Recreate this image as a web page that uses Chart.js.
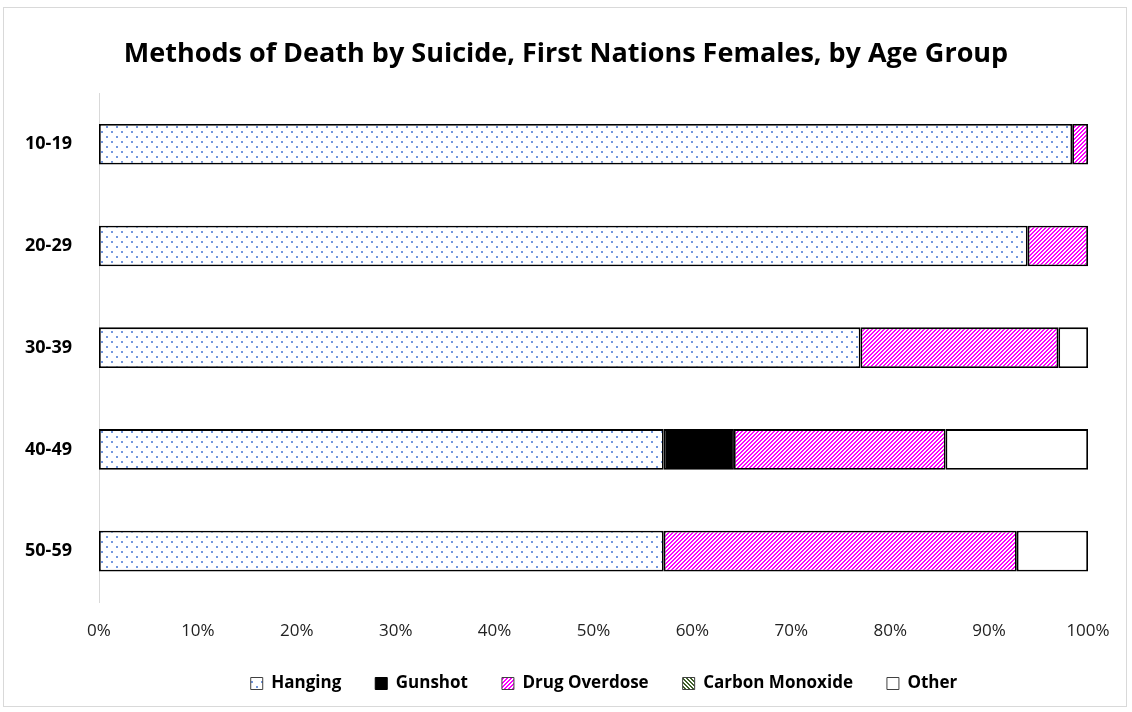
<!DOCTYPE html>
<html>
<head>
<meta charset="utf-8">
<script src="https://cdn.jsdelivr.net/npm/chart.js@4/dist/chart.umd.min.js"></script>
<style>
  html, body { margin: 0; padding: 0; background: #fff; }
  #wrap { position: absolute; left: 3px; top: 7px; width: 1124px; height: 700px; border: 1px solid #d9d9d9; box-sizing: border-box; }
  #c { position: absolute; left: 0; top: 0; }
</style>
</head>
<body>
<div id="wrap"></div>
<canvas id="c" width="1132" height="712"></canvas>
<script>
const categories = ['10-19', '20-29', '30-39', '40-49', '50-59'];
const seriesNames = ['Hanging', 'Gunshot', 'Drug Overdose', 'Carbon Monoxide', 'Other'];
const hanging = [98.4, 93.9, 77.0, 57.1, 57.1];
const gunshot = [0, 0, 0, 7.1, 0];
const drugOverdose = [1.6, 6.1, 20.0, 21.4, 35.7];
const carbonMonoxide = [0, 0, 0, 0, 0];
const other = [0, 0, 3.0, 14.4, 7.2];
const xTicks = [0, 10, 20, 30, 40, 50, 60, 70, 80, 90, 100];

function makeTile(w, h, painter) {
  const t = document.createElement('canvas');
  t.width = w; t.height = h;
  const g = t.getContext('2d');
  g.fillStyle = '#ffffff'; g.fillRect(0, 0, w, h);
  for (let y = 0; y < h; y++) {
    for (let x = 0; x < w; x++) {
      const c = painter(x, y);
      if (c) { g.fillStyle = c; g.fillRect(x, y, 1, 1); }
    }
  }
  return document.getElementById('c').getContext('2d').createPattern(t, 'repeat');
}
const dotPattern = makeTile(10, 10, (x, y) => {
  const a = (x === 1 || x === 2) && (y === 1 || y === 2);
  const b = (x === 6 || x === 7) && (y === 6 || y === 7);
  return (a || b) ? '#7397de' : null;
});
const stripePattern = makeTile(4, 4, (x, y) => (((x + y) % 4) < 2 ? '#ff00ff' : null));
const greenPattern = makeTile(4, 4, (x, y) => ((((x - y) % 4) + 4) % 4 < 2 ? '#3f5f2a' : null));

const fills = [dotPattern, '#000000', stripePattern, greenPattern, '#ffffff'];
const seriesData = [hanging, gunshot, drugOverdose, carbonMonoxide, other];

const datasets = seriesNames.map((name, i) => ({
  label: name,
  data: seriesData[i],
  backgroundColor: fills[i],
  borderColor: '#000000',
  borderWidth: (ctx) => (ctx.raw ? 1.8 : 0),
  borderSkipped: false,
  barPercentage: 0.4,
  categoryPercentage: 1.0
}));

const FONT = '"Open Sans", Lato, sans-serif';

const recenter = {
  id: 'recenter',
  afterLayout(chart) {
    const t = chart.titleBlock;
    if (t) { t.left = 0; t.right = chart.width; t.width = chart.width; }
    const l = chart.legend;
    if (l) { const shift = 38; l.left = shift; l.right = chart.width + shift; l.width = chart.width; }
  }
};

new Chart(document.getElementById('c'), {
  type: 'bar',
  data: { labels: categories, datasets },
  plugins: [recenter],
  options: {
    indexAxis: 'y',
    responsive: false,
    animation: false,
    layout: { padding: { left: 0, right: 44, top: 10, bottom: 10 } },
    plugins: {
      title: {
        display: true,
        text: 'Methods of Death by Suicide, First Nations Females, by Age Group',
        color: '#000',
        font: { family: FONT, size: 27, weight: 'bold' },
        padding: { top: 28, bottom: 23 }
      },
      legend: {
        position: 'bottom',
        labels: {
          color: '#000',
          font: { family: FONT, size: 17, weight: 'bold' },
          boxWidth: 12, boxHeight: 12, padding: 34,
          generateLabels: (chart) => chart.data.datasets.map((d, i) => ({
            text: d.label,
            fillStyle: d.backgroundColor,
            strokeStyle: i === 1 ? '#000' : '#404040',
            lineWidth: 1,
            datasetIndex: i,
            hidden: false
          }))
        }
      },
      tooltip: { enabled: false }
    },
    scales: {
      x: {
        stacked: true,
        min: 0, max: 100,
        afterBuildTicks: (axis) => { axis.ticks = xTicks.map(v => ({ value: v })); },
        afterFit: (s) => { s.height = 39; },
        grid: { display: false },
        border: { display: false },
        ticks: { color: '#222', font: { family: FONT, size: 17 }, padding: 11, callback: (v) => v + '%' }
      },
      y: {
        stacked: true,
        afterFit: (s) => { s.width = 99; },
        grid: { display: false },
        border: { display: true, color: '#d9d9d9', width: 1 },
        ticks: { color: '#000', font: { family: FONT, size: 18, weight: 'bold' }, padding: 19 }
      }
    }
  }
});
</script>
</body>
</html>
